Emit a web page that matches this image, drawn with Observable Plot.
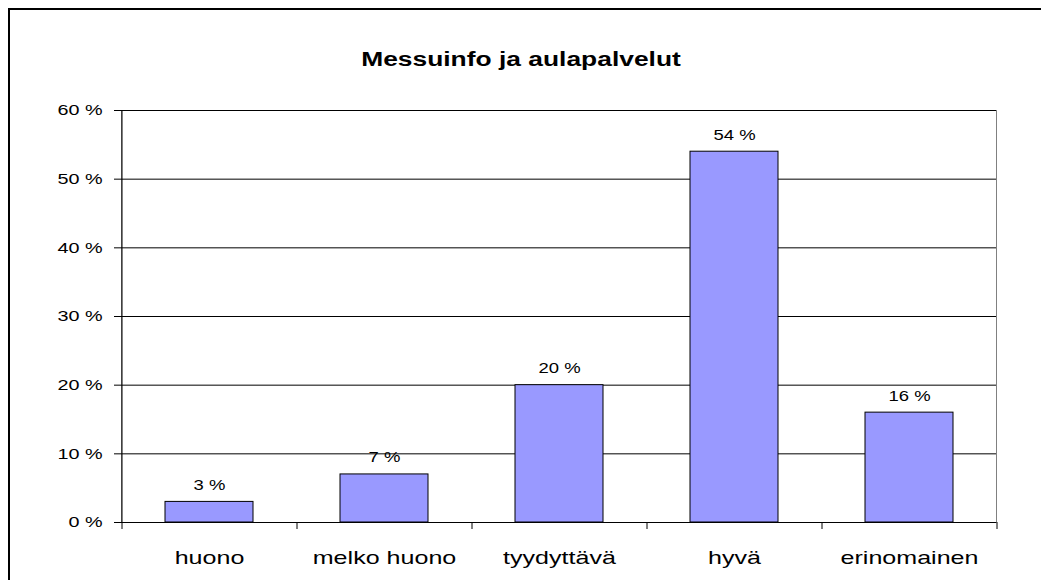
<!DOCTYPE html>
<html><head><meta charset="utf-8">
<script src="https://cdn.jsdelivr.net/npm/d3@7"></script>
<script src="https://cdn.jsdelivr.net/npm/@observablehq/plot@0.6"></script>
<style>
html,body{margin:0;padding:0;background:#fff;overflow:hidden;width:1041px;height:580px;}
#frame{position:absolute;left:8px;top:8px;width:1100px;height:700px;border:2px solid #000;}
#chart{position:absolute;left:0;top:0;}
</style></head><body>
<div id="frame"></div><div id="chart"></div>
<script>
const categories = ["huono", "melko huono", "tyydyttävä", "hyvä", "erinomainen"];
const values = [3, 7, 20, 54, 16];
const yTicks = [0, 10, 20, 30, 40, 50, 60];
const title = "Messuinfo ja aulapalvelut";

const data = categories.map((c, i) => ({category: c, value: values[i]}));
const W = 1041, H = 580, mL = 121, mR = 45, mT = 110, mB = 58;
const step = (W - mL - mR) / categories.length;
const first = categories[0], last = categories[categories.length - 1];
const FONT = "'Liberation Sans', Arial, sans-serif";

const svg = Plot.plot({
  width: W, height: H,
  marginLeft: mL, marginRight: mR, marginTop: mT, marginBottom: mB,
  style: {fontFamily: FONT, background: "transparent", overflow: "visible", color: "#000"},
  x: {type: "band", domain: categories, paddingInner: 0.5, paddingOuter: 0.25, axis: null},
  y: {domain: [0, 60], axis: null},
  marks: [
    Plot.frame({stroke: "#808080"}),
    Plot.gridY(yTicks, {stroke: "#000", strokeOpacity: 1}),
    Plot.barY(data, {x: "category", y: "value", fill: "#9999FF", stroke: "#000", strokeWidth: 1}),
    Plot.text(data, {x: "category", y: "value", text: d => d.value + " %", lineAnchor: "bottom", dy: -12, fontSize: 14, fill: "#000"}),
    Plot.ruleX([first], {dx: -step / 2, y1: 0, y2: 60, stroke: "#000"}),
    Plot.ruleY([0], {stroke: "#000"}),
    Plot.ruleX(categories, {x: d => d, dx: -step / 2, y1: 0, y2: 0, insetBottom: -7, stroke: "#000"}),
    Plot.ruleX([last], {x: d => d, dx: step / 2, y1: 0, y2: 0, insetBottom: -7, stroke: "#000"}),
    Plot.axisY(yTicks, {tickSize: 7, tickPadding: 12, tickFormat: d => d + " %", label: null, fontSize: 15}),
    Plot.text(categories, {x: d => d, text: d => d, frameAnchor: "bottom", lineAnchor: "bottom", dy: 41, fontSize: 19, fill: "#000"}),
    Plot.text([title], {text: d => d, frameAnchor: "top", lineAnchor: "bottom", dx: -38, dy: -45, fontSize: 20, fontWeight: "bold", fill: "#000"})
  ]
});
svg.querySelectorAll("text").forEach(t => {
  const tr = t.getAttribute("transform") || "";
  t.setAttribute("transform", tr + " scale(1.32,1)");
});
document.getElementById("chart").appendChild(svg);
</script>
</body></html>
